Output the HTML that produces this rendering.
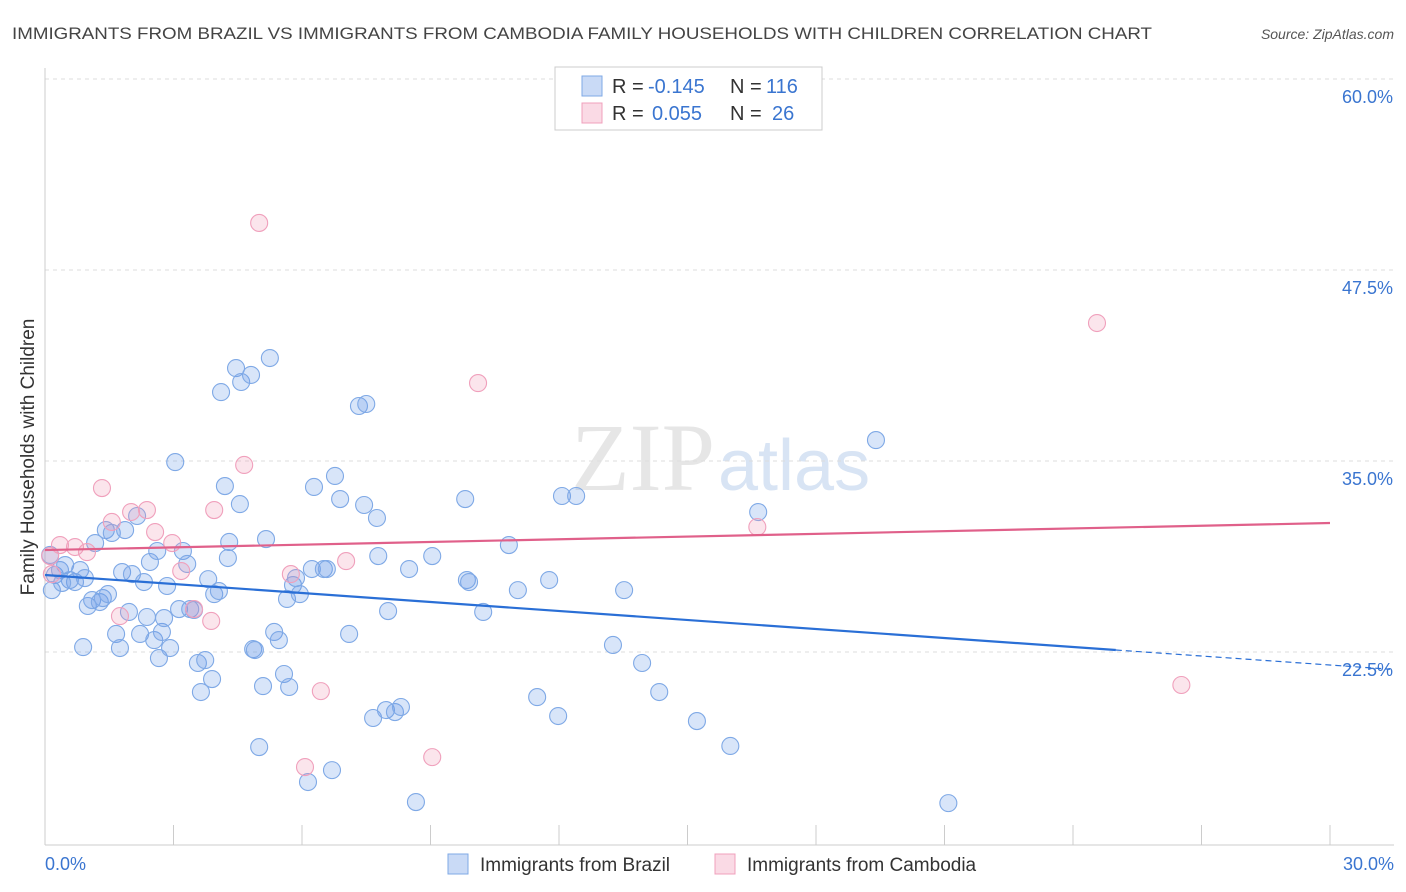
<!DOCTYPE html>
<html><head><meta charset="utf-8"><style>
body{margin:0;background:#fff;font-family:"Liberation Sans",sans-serif;}
svg{display:block}
</style></head><body>
<svg id="chart" width="1406" height="892">
<text x="12" y="39" font-size="17" fill="#444" textLength="1140" lengthAdjust="spacingAndGlyphs">IMMIGRANTS FROM BRAZIL VS IMMIGRANTS FROM CAMBODIA FAMILY HOUSEHOLDS WITH CHILDREN CORRELATION CHART</text>
<text x="1394" y="39" font-size="14" fill="#555" font-style="italic" text-anchor="end">Source: ZipAtlas.com</text>
<text x="715" y="490" font-size="96" fill="#e6e6e6" text-anchor="end" font-family="Liberation Serif,serif">ZIP</text>
<text x="718" y="490" font-size="72" fill="#d8e4f4">atlas</text>
<g id="grid"></g><g id="pts"></g><g id="trend"></g>
<text transform="translate(34,457) rotate(-90)" font-size="19" fill="#333" text-anchor="middle">Family Households with Children</text>
<g>
<rect x="555" y="67" width="267" height="63" fill="#fff" stroke="#ccc"/>
<rect x="582" y="76" width="20" height="20" fill="rgba(100,150,230,0.35)" stroke="#7fa9e6"/>
<rect x="582" y="103" width="20" height="20" fill="rgba(240,150,180,0.35)" stroke="#f0a0bc"/>
<text x="612" y="93" font-size="20" fill="#333">R =</text>
<text x="648" y="93" font-size="20" fill="#3a75d0">-0.145</text>
<text x="730" y="93" font-size="20" fill="#333">N =</text>
<text x="766" y="93" font-size="20" fill="#3a75d0">116</text>
<text x="612" y="120" font-size="20" fill="#333">R =</text>
<text x="652" y="120" font-size="20" fill="#3a75d0">0.055</text>
<text x="730" y="120" font-size="20" fill="#333">N =</text>
<text x="772" y="120" font-size="20" fill="#3a75d0">26</text>
</g>
<g>
<rect x="448" y="854" width="20" height="20" fill="rgba(100,150,230,0.35)" stroke="#7fa9e6"/>
<text x="480" y="871" font-size="19" fill="#333">Immigrants from Brazil</text>
<rect x="715" y="854" width="20" height="20" fill="rgba(240,150,180,0.35)" stroke="#f0a0bc"/>
<text x="747" y="871" font-size="19" fill="#333">Immigrants from Cambodia</text>
</g>
</svg>
<script>
const yTicks=[60,47.5,35,22.5];
const xTickLabels=["0.0%","30.0%"];
const brazilX=[0.16,0.23,0.35,0.47,0.58,0.70,0.82,0.93,0.40,0.12,0.89,1.00,1.10,1.17,1.28,1.35,1.42,1.47,1.56,1.66,1.75,1.80,1.87,1.96,2.03,2.15,2.22,2.31,2.38,2.45,2.55,2.62,2.66,2.73,2.78,2.85,2.92,3.04,3.13,3.22,3.32,3.39,3.48,3.57,3.64,3.74,3.81,3.90,3.95,4.06,4.11,4.20,4.30,4.27,4.46,4.55,4.58,4.81,4.86,4.90,5.00,5.09,5.16,5.25,5.35,5.46,5.58,5.65,5.70,5.79,5.86,5.95,6.14,6.23,6.28,6.51,6.58,6.70,6.77,6.89,7.10,7.33,7.50,7.45,7.66,7.75,7.78,7.96,8.01,8.17,8.31,8.50,8.66,9.04,9.81,9.85,9.90,10.23,10.83,11.04,11.49,11.77,11.98,12.07,12.40,13.26,13.52,13.94,14.34,15.22,16.00,16.65,19.40,21.09];
const brazilY=[26.55,27.54,27.86,28.19,27.21,27.08,27.86,27.34,27.02,28.85,22.82,25.51,25.90,29.63,25.77,26.03,30.48,26.29,30.29,23.68,22.76,27.73,30.48,25.12,27.60,31.40,23.68,27.08,24.79,28.39,23.28,29.11,22.10,23.81,24.72,26.82,22.76,34.93,25.31,29.11,28.26,25.31,25.25,21.78,19.88,21.97,27.27,20.73,26.29,26.49,39.51,33.36,29.70,28.65,41.08,32.18,40.17,40.63,22.69,22.63,16.28,20.27,29.89,41.74,23.81,23.28,21.06,25.97,20.21,26.88,27.34,26.29,13.99,27.93,33.30,27.93,27.93,14.77,34.02,32.51,23.68,38.60,38.73,32.12,18.18,31.27,28.78,18.70,25.18,18.57,18.90,27.93,12.68,28.78,32.51,27.21,27.08,25.12,29.50,26.55,19.55,27.21,18.31,32.71,32.71,22.96,26.55,21.78,19.88,17.98,16.35,31.66,36.37,12.61];
const cambodiaX=[0.12,0.16,0.35,0.70,0.98,1.33,1.56,1.75,2.01,2.38,2.57,2.97,3.18,3.48,3.88,3.95,4.65,5.00,5.74,6.44,6.07,7.03,9.04,10.11,16.63,24.56,26.53];
const cambodiaY=[28.78,27.60,29.50,29.37,29.04,33.23,31.01,24.85,31.66,31.79,30.35,29.63,27.80,25.31,24.53,31.79,34.74,50.58,27.60,19.94,14.97,28.45,15.62,40.10,30.68,44.03,20.34];
const brazilTrend=[27.54,-0.1964];
const cambodiaTrend=[29.17,0.059];
const X=v=>45+v/30*1285, Y=v=>79+(60-v)*15.28;
const NS="http://www.w3.org/2000/svg";
function mk(t,a,p){const e=document.createElementNS(NS,t);for(const k in a)e.setAttribute(k,a[k]);p.appendChild(e);return e;}
const g=document.getElementById('grid');
yTicks.forEach(v=>{
 const l=mk('line',{x1:45,x2:1394,y1:Y(v),y2:Y(v),stroke:'#ddd','stroke-dasharray':'4,4'},g);
 
 
 const t=mk('text',{x:1393,y:Y(v)+24,'font-size':18,fill:'#3a75d0','text-anchor':'end'},g);t.textContent=v.toFixed(1)+'%';
 
 
});
mk('line',{x1:45,x2:45,y1:68,y2:845,stroke:'#ccc'},g);
mk('line',{x1:45,x2:1394,y1:845,y2:845,stroke:'#ccc'},g);
for(let i=0;i<=10;i++){mk('line',{x1:X(i*3),x2:X(i*3),y1:825,y2:845,stroke:'#ccc'},g);}
[[0,'start',45],[30,'end',1394]].forEach((d,i)=>{const t=mk('text',{x:d[2],y:870,'font-size':18,fill:'#3a75d0','text-anchor':d[1]},g);t.textContent=xTickLabels[i];
 
 });
const p=document.getElementById('pts');
brazilX.forEach((x,i)=>{const c=mk('circle',{cx:X(x),cy:Y(brazilY[i]),r:8.5,fill:'rgba(100,150,230,0.25)',stroke:'#7fa9e6','stroke-width':1.1},p);
 
 });
cambodiaX.forEach((x,i)=>{const c=mk('circle',{cx:X(x),cy:Y(cambodiaY[i]),r:8.5,fill:'rgba(240,150,180,0.25)',stroke:'#f0a0bc','stroke-width':1.1},p);
 
 });
const tr=document.getElementById('trend');
const bf=x=>brazilTrend[0]+brazilTrend[1]*x, cf=x=>cambodiaTrend[0]+cambodiaTrend[1]*x;
let l=mk('line',{x1:X(0),y1:Y(bf(0)),x2:X(25),y2:Y(bf(25)),stroke:'#2a6fd6','stroke-width':2.2},tr);


l=mk('line',{x1:X(25),y1:Y(bf(25)),x2:X(31.4),y2:Y(bf(31.4)),stroke:'#2a6fd6','stroke-width':1.2,'stroke-dasharray':'6,4'},tr);


l=mk('line',{x1:X(0),y1:Y(cf(0)),x2:X(30),y2:Y(cf(30)),stroke:'#e0608a','stroke-width':2.2},tr);


</script>
</body></html>
